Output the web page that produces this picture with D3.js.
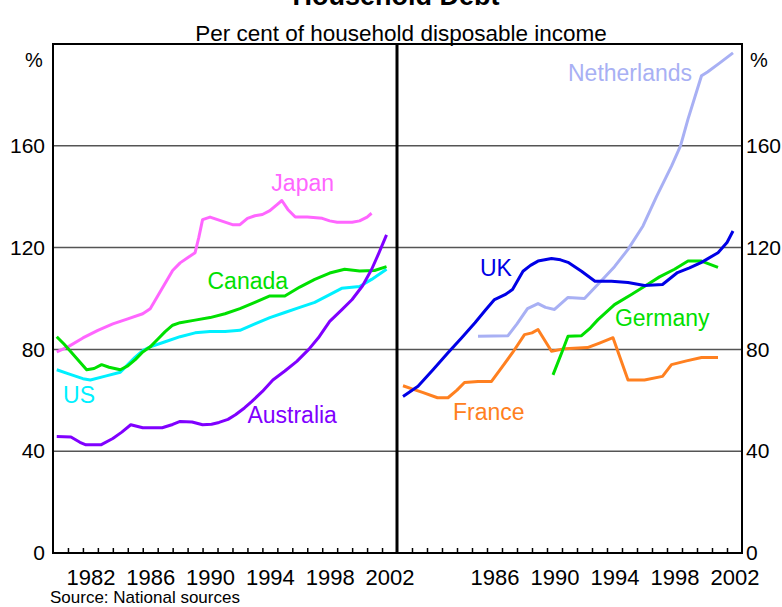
<!DOCTYPE html>
<html lang="en">
	<head>
		<meta charset="utf-8">
		<title>Household Debt</title>
		<script type="text/javascript" src="https://cdn.jsdelivr.net/npm/d3@7/dist/d3.min.js"></script>
		<style>
			body { margin: 0; background: #fff; }
			text { font-family: "Liberation Sans", Arial, sans-serif; }
		</style>
	</head>
	<body>
		<script type="text/javascript">
			// tick labels
			var leftYears = [1982, 1986, 1990, 1994, 1998, 2002];
			var rightYears = [1986, 1990, 1994, 1998, 2002];
			var yTicks = [0, 40, 80, 120, 160];

			// left panel series [year, per cent]
			var japan = [[1980.25,79],[1981,81],[1982,84.5],[1983,87.5],[1984,90],[1985,92],[1986,94],[1986.5,96],[1987,101],[1987.5,106],[1988,111],[1988.5,114],[1989,116],[1989.5,118],[1989.75,124],[1990,131],[1990.5,132],[1991,131],[1991.5,130],[1992,129],[1992.5,129],[1993,131.5],[1993.5,132.5],[1994,133],[1994.5,134.5],[1995,137],[1995.3,138.5],[1995.7,135],[1996.2,132],[1997,132],[1998,131.5],[1998.5,130.5],[1999,130],[2000,130],[2000.5,130.5],[2001,132],[2001.3,133.5]];
			var canada = [[1980.25,85],[1980.75,82],[1981.5,77],[1982.25,72],[1982.75,72.5],[1983.25,74],[1983.75,73],[1984.5,72],[1985,73.5],[1985.5,76],[1986,79],[1986.5,81],[1987,84],[1987.5,87],[1988,89.5],[1988.5,90.5],[1989.5,91.5],[1990.5,92.5],[1991.5,94],[1992.5,96],[1993.5,98.5],[1994.5,101],[1995.5,101],[1996.5,104.5],[1997.5,107.5],[1998.5,110],[1999.5,111.5],[2000.5,110.8],[2001.5,111],[2002.3,112.5]];
			var us = [[1980.25,72],[1981,70.5],[1982,68.5],[1982.5,68],[1983.5,69.5],[1984.5,71],[1985,74],[1985.5,77],[1986,79.5],[1986.5,81],[1987.5,83],[1988.5,85],[1989.5,86.5],[1990.5,87],[1991.5,87],[1992.5,87.5],[1993.5,90],[1994.5,92.5],[1995.5,94.5],[1996.5,96.5],[1997.5,98.5],[1998.5,101.5],[1999.3,104],[2000.5,104.7],[2001.3,107.5],[2002.3,111.5]];
			var australia = [[1980.25,45.8],[1981.2,45.6],[1981.8,43.5],[1982.2,42.5],[1983.2,42.5],[1984,45],[1984.6,47.5],[1985.2,50.4],[1986,49.2],[1987.3,49.2],[1988,50.5],[1988.5,51.7],[1989.3,51.5],[1990,50.4],[1990.6,50.6],[1991.1,51.3],[1991.7,52.5],[1992.2,54.3],[1992.8,57],[1993.3,59.6],[1994,63.5],[1994.7,68],[1995.5,71.5],[1996.3,75.3],[1997.1,80],[1997.8,85],[1998.5,91],[1999.3,95.5],[2000,99.6],[2000.7,105],[2001.3,111.4],[2001.8,118],[2002.3,125]];

			// right panel series
			var uk = [[1980.4,61.5],[1981.4,65.5],[1982.4,72],[1983.4,78.7],[1984.3,84.5],[1985.2,90.5],[1985.9,95.5],[1986.5,99.6],[1987.2,101.5],[1987.7,103.5],[1988.4,110.7],[1988.9,113],[1989.4,114.7],[1990.3,115.7],[1990.9,115.2],[1991.4,114.2],[1992.3,110.7],[1993.2,106.8],[1994.3,106.8],[1995.4,106.3],[1996.5,105.1],[1997.7,105.5],[1998.7,110.2],[1999.5,112],[2000.3,114.2],[2001.4,118],[2002,122],[2002.4,126.5]];
			var netherlands = [[1985.4,85.2],[1987.4,85.4],[1988,90],[1988.7,96],[1989.4,98],[1989.9,96.5],[1990.5,95.7],[1991.4,100.4],[1992.5,100],[1993.7,107.5],[1994.5,112.5],[1995.4,119.3],[1996.4,128.5],[1997.3,140],[1998.3,152],[1998.9,160],[1999.4,170.5],[2000.3,187.5],[2000.7,189],[2001.5,192.5],[2002.4,196.5]];
			var germany = [[1990.4,70],[1991,79],[1991.4,85.2],[1992.3,85.4],[1992.9,88.5],[1993.4,91.7],[1994.5,97.6],[1995.6,101.5],[1996.7,105.5],[1997.5,108.5],[1998.5,111.5],[1999.4,114.7],[2000.3,114.7],[2001.4,112.2]];
			var france = [[1980.4,65.7],[1981,64.5],[1981.7,63.1],[1982.7,61],[1983.4,61],[1984,64],[1984.5,67],[1985.4,67.4],[1986.3,67.4],[1987,73],[1987.7,78.7],[1988.5,85.8],[1989,86.5],[1989.4,87.8],[1990.3,79.3],[1991.2,80.3],[1992.7,80.7],[1993.5,82.5],[1994.4,84.6],[1995.4,68],[1996.5,68],[1997.7,69.4],[1998.3,74],[1999.3,75.5],[2000.3,76.8],[2001.4,76.8]];

			//Width and height of svg
			var w = 782;
			var h = 607;
			// plot box edges (don't call these "top" - clashes with window.top)
			var padL = 53, padMid = 397, padR = 742;
			var padT = 44, padB = 553;

			var svg = d3.select("body")
						.append("svg")
						.attr("width", w)
						.attr("height", h);

			//Create scale functions
			var xLeft = d3.scaleLinear().domain([1980, 2003]).range([padL, padMid]);
			var xRight = d3.scaleLinear().domain([1980, 2003]).range([padMid, padR]);
			var yScale = d3.scaleLinear().domain([0, 200]).range([padB, padT]);

			// Title (cut off at top in the original)
			svg.append("text")
				.attr("x", 396)
				.attr("y", 5)
				.attr("text-anchor", "middle")
				.attr("font-size", "27px")
				.attr("font-weight", "bold")
				.text("Household Debt");

			svg.append("text")
				.attr("x", 401)
				.attr("y", 41)
				.attr("text-anchor", "middle")
				.attr("font-size", "22.5px")
				.text("Per cent of household disposable income");

			// gridlines
			svg.selectAll(".grid")
				.data(yTicks.filter(function(d) { return d > 0; }))
				.enter()
				.append("line")
				.attr("class", "grid")
				.attr("x1", padL)
				.attr("x2", padR)
				.attr("y1", function(d) { return yScale(d); })
				.attr("y2", function(d) { return yScale(d); })
				.attr("stroke", "#555")
				.attr("stroke-width", 1.5);

			// draw lines
			var panels = [
				{x: xLeft, series: [
					{data: japan, color: "#ff66ff"},
					{data: us, color: "#00f0ff"},
					{data: canada, color: "#00e000"},
					{data: australia, color: "#8000ff"}
				]},
				{x: xRight, series: [
					{data: netherlands, color: "#a8b0f4"},
					{data: france, color: "#ff8020"},
					{data: germany, color: "#00e000"},
					{data: uk, color: "#0000e6"}
				]}
			];

			panels.forEach(function(p) {
				var line = d3.line()
					.x(function(d) { return p.x(d[0]); })
					.y(function(d) { return yScale(d[1]); });
				p.series.forEach(function(s) {
					svg.append("path")
						.attr("d", line(s.data))
						.attr("fill", "none")
						.attr("stroke", s.color)
						.attr("stroke-width", 3)
						.attr("stroke-linejoin", "round");
				});
			});

			// series labels
			var labels = [
				{x: xLeft, name: "Japan", year: 1994.6, val: 142.1, color: "#ff66ff"},
				{x: xLeft, name: "Canada", year: 1990.33, val: 103.9, color: "#00e000"},
				{x: xLeft, name: "US", year: 1980.67, val: 59.1, color: "#00f0ff"},
				{x: xLeft, name: "Australia", year: 1993, val: 51.2, color: "#8000ff"},
				{x: xRight, name: "Netherlands", year: 1991.4, val: 185.4, color: "#a8b0f4"},
				{x: xRight, name: "UK", year: 1985.53, val: 108.7, color: "#0000e6"},
				{x: xRight, name: "Germany", year: 1994.53, val: 89, color: "#00e000"},
				{x: xRight, name: "France", year: 1983.73, val: 52.4, color: "#ff8020"}
			];
			labels.forEach(function(l) {
				svg.append("text")
					.attr("x", l.x(l.year))
					.attr("y", yScale(l.val))
					.attr("font-size", "23px")
					.attr("fill", l.color)
					.text(l.name);
			});

			// minor ticks on each year
			[xLeft, xRight].forEach(function(x) {
				svg.append("g")
					.attr("transform", "translate(0," + padB + ")")
					.call(d3.axisBottom(x).tickValues(d3.range(1981, 2003)).tickSize(-5).tickFormat(""))
					.call(function(g) {
						g.select(".domain").remove();
						g.selectAll("line").attr("stroke", "#000").attr("stroke-width", 1.5);
					});
			});

			// year labels, centred on the year
			function yearAxis(x, years) {
				svg.append("g")
					.attr("transform", "translate(0," + padB + ")")
					.call(d3.axisBottom(x)
						.tickValues(years.map(function(d) { return d + 0.5; }))
						.tickSize(0)
						.tickPadding(16)
						.tickFormat(function(d) { return Math.floor(d); }))
					.call(function(g) {
						g.select(".domain").remove();
						g.selectAll("text")
							.attr("font-size", "22px")
							.attr("font-family", "'Liberation Sans', Arial, sans-serif")
							.attr("fill", "#000");
					});
			}
			yearAxis(xLeft, leftYears);
			yearAxis(xRight, rightYears);

			//Create Y axes
			svg.append("g")
				.attr("transform", "translate(" + padL + ",0)")
				.call(d3.axisLeft(yScale).tickValues(yTicks).tickSize(0).tickPadding(8))
				.call(function(g) {
					g.select(".domain").remove();
					g.selectAll("text").attr("font-size", "21px")
						.attr("font-family", "'Liberation Sans', Arial, sans-serif").attr("fill", "#000");
				});
			svg.append("g")
				.attr("transform", "translate(" + padR + ",0)")
				.call(d3.axisRight(yScale).tickValues(yTicks).tickSize(0).tickPadding(4))
				.call(function(g) {
					g.select(".domain").remove();
					g.selectAll("text").attr("font-size", "21px")
						.attr("font-family", "'Liberation Sans', Arial, sans-serif").attr("fill", "#000");
				});

			svg.append("text").attr("x", 34).attr("y", 67).attr("text-anchor", "middle")
				.attr("font-size", "20px").text("%");
			svg.append("text").attr("x", 759).attr("y", 67).attr("text-anchor", "middle")
				.attr("font-size", "20px").text("%");

			// frame and divider
			svg.append("rect")
				.attr("x", padL)
				.attr("y", padT)
				.attr("width", padR - padL)
				.attr("height", padB - padT)
				.attr("fill", "none")
				.attr("stroke", "#000")
				.attr("stroke-width", 2);
			svg.append("line")
				.attr("x1", padMid).attr("x2", padMid)
				.attr("y1", padT).attr("y2", padB)
				.attr("stroke", "#000")
				.attr("stroke-width", 3);

			svg.append("text")
				.attr("x", 50)
				.attr("y", 603)
				.attr("font-size", "17px")
				.text("Source: National sources");
		</script>
	</body>
</html>
